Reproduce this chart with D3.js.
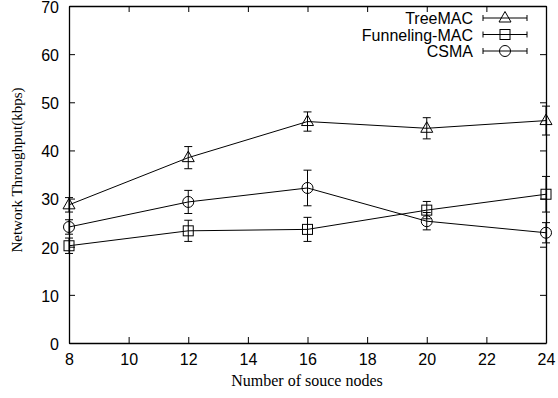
<!DOCTYPE html>
<html>
<head>
<meta charset="utf-8">
<script src="https://cdn.jsdelivr.net/npm/d3@7"></script>
<style>
  body { margin: 0; background: #fff; }
  svg { display: block; }
</style>
</head>
<body>
<svg id="chart" width="558" height="398"></svg>
<script>
const nodes = [8, 12, 16, 20, 24];
const seriesNames = ['TreeMAC', 'Funneling-MAC', 'CSMA'];
const treeMac = [28.7, 38.5, 46.0, 44.6, 46.2];
const treeMacErr = [1.5, 2.3, 2.0, 2.2, 3.0];
const funnelingMac = [20.2, 23.3, 23.6, 27.6, 30.9];
const funnelingMacErr = [1.6, 2.2, 2.5, 1.8, 3.7];
const csma = [24.1, 29.3, 32.2, 25.3, 22.9];
const csmaErr = [1.5, 2.4, 3.7, 1.8, 2.1];
const xTicks = [8, 10, 12, 14, 16, 18, 20, 22, 24];
const yTicks = [0, 10, 20, 30, 40, 50, 60, 70];

const series = [
  { name: seriesNames[0], values: treeMac, err: treeMacErr, marker: 'triangle' },
  { name: seriesNames[1], values: funnelingMac, err: funnelingMacErr, marker: 'square' },
  { name: seriesNames[2], values: csma, err: csmaErr, marker: 'circle' }
];

const plotLeft = 69, plotRight = 546, plotTop = 6, plotBottom = 343;
const svg = d3.select('#chart');

const x = d3.scaleLinear().domain([8, 24]).range([plotLeft, plotRight]);
const y = d3.scaleLinear().domain([0, 70]).range([plotBottom, plotTop]);

// axes with inward ticks, mirrored on top and right
const tickFont = '"Liberation Sans", Arial, sans-serif';
const serifFont = '"Liberation Serif", "Times New Roman", serif';
svg.append('g').attr('transform', `translate(0,${plotBottom})`)
  .call(d3.axisBottom(x).tickValues(xTicks).tickSizeInner(-6).tickSizeOuter(0).tickPadding(11));
const yAxisG = svg.append('g').attr('transform', `translate(${plotLeft},0)`)
  .call(d3.axisLeft(y).tickValues(yTicks).tickSizeInner(-6).tickSizeOuter(0).tickPadding(10));
yAxisG.selectAll('.tick text').attr('dy', '0.4em');
svg.append('g').attr('transform', `translate(0,${plotTop})`)
  .call(d3.axisTop(x).tickValues(xTicks).tickSizeInner(-6).tickSizeOuter(0).tickFormat(''));
svg.append('g').attr('transform', `translate(${plotRight},0)`)
  .call(d3.axisRight(y).tickValues(yTicks).tickSizeInner(-6).tickSizeOuter(0).tickFormat(''));

svg.selectAll('.domain').attr('stroke', '#000').attr('stroke-width', 1.3);
svg.selectAll('.tick line').attr('stroke', '#000');
svg.selectAll('.tick text')
  .attr('fill', '#000')
  .style('font-family', tickFont)
  .style('font-size', '16px');

svg.append('text')
  .attr('x', 307)
  .attr('y', 386)
  .attr('text-anchor', 'middle')
  .style('font-family', serifFont)
  .style('font-size', '16px')
  .text('Number of souce nodes');

svg.append('text')
  .attr('transform', `translate(22,170) rotate(-90)`)
  .attr('text-anchor', 'middle')
  .style('font-family', serifFont)
  .style('font-size', '15px')
  .text('Network Throughput(kbps)');

function drawMarker(g, type, cx, cy) {
  if (type === 'triangle') {
    g.append('path')
      .attr('d', `M${cx},${cy - 6.5}L${cx + 6},${cy + 4}L${cx - 6},${cy + 4}Z`)
      .attr('fill', 'none').attr('stroke', '#000');
  } else if (type === 'square') {
    g.append('rect')
      .attr('x', cx - 5).attr('y', cy - 5).attr('width', 10).attr('height', 10)
      .attr('fill', 'none').attr('stroke', '#000');
  } else {
    g.append('circle')
      .attr('cx', cx).attr('cy', cy).attr('r', 5.5)
      .attr('fill', 'none').attr('stroke', '#000');
  }
}

const line = d3.line().x(d => x(d[0])).y(d => y(d[1]));
const plot = svg.append('g');

series.forEach(s => {
  const pts = nodes.map((n, i) => [n, s.values[i], s.err[i]]);
  plot.append('path')
    .attr('d', line(pts))
    .attr('fill', 'none')
    .attr('stroke', '#000')
    .attr('stroke-width', 1);
  pts.forEach(p => {
    const cx = x(p[0]);
    const lo = y(p[1] - p[2]), hi = y(p[1] + p[2]);
    plot.append('line').attr('x1', cx).attr('x2', cx).attr('y1', lo).attr('y2', hi)
      .attr('stroke', '#000');
    [lo, hi].forEach(v => plot.append('line')
      .attr('x1', cx - 4).attr('x2', cx + 4).attr('y1', v).attr('y2', v)
      .attr('stroke', '#000'));
    drawMarker(plot, s.marker, cx, y(p[1]));
  });
});

// legend
const legend = svg.append('g');
series.forEach((s, i) => {
  const ly = 18 + i * 16.5;
  legend.append('text')
    .attr('x', 473).attr('y', ly + 6)
    .attr('text-anchor', 'end')
    .style('font-family', tickFont)
    .style('font-size', '16px')
    .text(s.name);
  legend.append('line').attr('x1', 483).attr('x2', 527).attr('y1', ly).attr('y2', ly)
    .attr('stroke', '#000');
  [483, 527].forEach(v => legend.append('line')
    .attr('x1', v).attr('x2', v).attr('y1', ly - 3).attr('y2', ly + 3)
    .attr('stroke', '#000'));
  drawMarker(legend, s.marker, 505, ly);
});
</script>
</body>
</html>
